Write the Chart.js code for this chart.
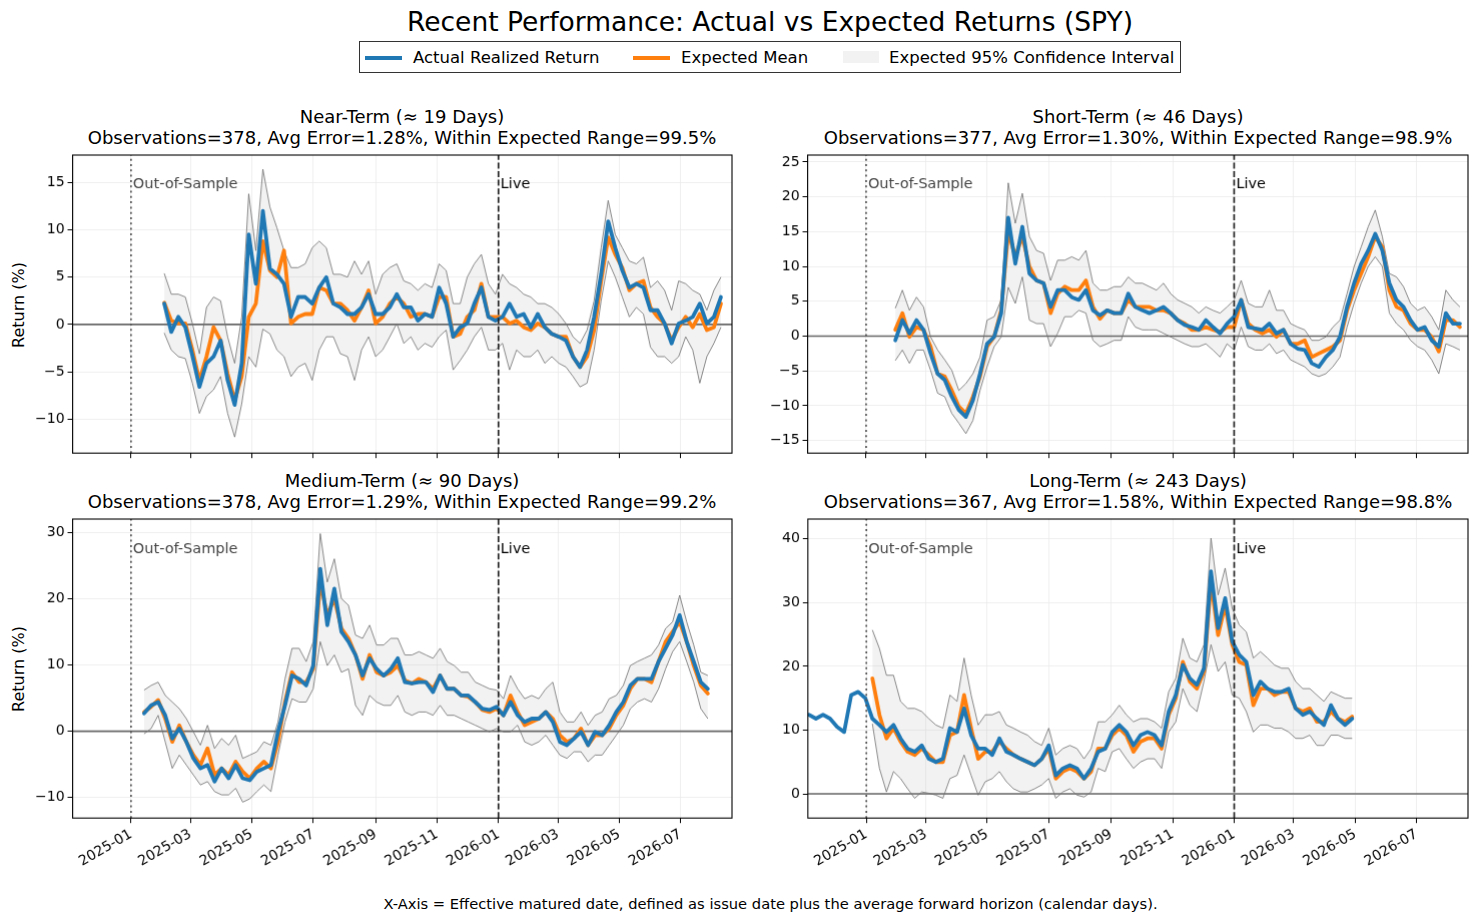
<!DOCTYPE html>
<html>
<head>
<meta charset="utf-8">
<title>Recent Performance: Actual vs Expected Returns (SPY)</title>
<script src="https://cdn.jsdelivr.net/npm/chart.js@4.4.1/dist/chart.umd.min.js"></script>
<style>
  body { margin: 0; background: #fff; font-family: "DejaVu Sans", sans-serif; color: #000; }
  #page { position: relative; width: 1478px; height: 922px; overflow: hidden; }
  .txt { position: absolute; white-space: nowrap; }
  .center { text-align: center; }
  #legend { position: absolute; left: 359px; top: 41px; width: 820px; height: 30px; border: 1px solid #333; }
  #legend .swatch { position: absolute; }
  #legend .lbl { position: absolute; top: 0; line-height: 31px; font-size: 16.5px; }
  .ytitle { position: absolute; font-size: 16px; transform: translate(-50%, -50%) rotate(-90deg); white-space: nowrap; }
</style>
</head>
<body>
<div id="page">
  <div class="txt center" style="left:0;width:1540px;top:5px;line-height:34px;font-size:26.5px;">Recent Performance: Actual vs Expected Returns (SPY)</div>

  <div id="legend">
    <div class="swatch" style="left:5px;top:14px;width:37px;height:3.8px;background:#1f77b4"></div>
    <div class="lbl" style="left:53px">Actual Realized Return</div>
    <div class="swatch" style="left:273px;top:14px;width:37px;height:3.8px;background:#ff7f0e"></div>
    <div class="lbl" style="left:321px">Expected Mean</div>
    <div class="swatch" style="left:483px;top:9px;width:36px;height:12px;background:#f2f2f2;"></div>
    <div class="lbl" style="left:529px">Expected 95% Confidence Interval</div>
  </div>

  <div class="txt center" style="left:2px;width:800px;top:106px;line-height:21px;font-size:18px;">Near-Term (≈ 19 Days)<br>Observations=378, Avg Error=1.28%, Within Expected Range=99.5%</div>
  <div class="txt center" style="left:738px;width:800px;top:106px;line-height:21px;font-size:18px;">Short-Term (≈ 46 Days)<br>Observations=377, Avg Error=1.30%, Within Expected Range=98.9%</div>
  <div class="txt center" style="left:2px;width:800px;top:470px;line-height:21px;font-size:18px;">Medium-Term (≈ 90 Days)<br>Observations=378, Avg Error=1.29%, Within Expected Range=99.2%</div>
  <div class="txt center" style="left:738px;width:800px;top:470px;line-height:21px;font-size:18px;">Long-Term (≈ 243 Days)<br>Observations=367, Avg Error=1.58%, Within Expected Range=98.8%</div>

  <div class="ytitle" style="left:18px;top:305px;">Return (%)</div>
  <div class="ytitle" style="left:18px;top:669px;">Return (%)</div>

  <div class="txt center" style="left:0;width:1541px;top:894px;line-height:20px;font-size:14.7px;">X-Axis = Effective matured date, defined as issue date plus the average forward horizon (calendar days).</div>
</div>

<script>
// weekly samples (returns in %)
const WEEK = 7;

const xTickLabels = ['2025-01', '2025-03', '2025-05', '2025-07', '2025-09', '2025-11',
                     '2026-01', '2026-03', '2026-05', '2026-07'];

const nearStart = '2025-02-03';
const nearActual = [2.2, -0.8, 0.8, -0.3, -3.3, -6.6, -4.1, -3.4, -1.7, -5.9,
  -8.5, -4.1, 9.5, 4.3, 12.0, 5.9, 5.3, 4.3, 0.8, 2.9,
  2.9, 2.2, 3.9, 5.0, 2.2, 1.8, 1.1, 1.1, 1.8, 3.2,
  1.1, 1.1, 1.8, 3.2, 1.8, 1.8, 0.4, 1.1, 0.8, 3.9,
  2.2, -1.3, -0.3, 0.1, 2.2, 3.9, 0.8, 0.4, 0.8, 2.2,
  0.8, 1.1, -0.3, 1.1, -0.3, -1.0, -1.3, -1.7, -3.4, -4.5,
  -2.7, 0.8, 5.3, 10.9, 8.1, 5.7, 3.9, 4.3, 3.9, 1.5,
  1.5, 0.1, -2.0, 0.1, 0.4, 0.8, 2.2, 0.1, 0.8, 2.9];
const nearMean = [2.3, 0.4, 0.1, 0.1, -2.7, -5.9, -3.4, -0.3, -1.7, -5.2,
  -8.0, -5.5, 0.8, 2.2, 8.8, 5.7, 5.0, 7.8, 0.1, 0.8,
  1.1, 1.1, 3.9, 3.6, 2.2, 2.2, 1.5, 0.4, 1.8, 3.6,
  0.1, 0.8, 2.2, 2.9, 2.2, 0.8, 1.1, 1.1, 0.8, 2.9,
  2.9, -1.3, -1.0, 0.8, 1.5, 4.3, 0.8, 0.8, 0.8, 0.1,
  0.4, -0.3, -0.6, 0.1, -0.3, -1.0, -1.3, -1.3, -3.4, -4.5,
  -3.4, -0.6, 4.6, 9.2, 7.4, 6.0, 3.6, 4.3, 4.6, 1.8,
  0.8, 0.1, -1.7, -0.3, 0.8, -0.3, 1.1, -0.6, -0.3, 2.2];
const nearUpper = [5.4, 3.2, 3.2, 2.9, 0.1, -3.1, 1.8, 2.9, 2.5, -1.3,
  -4.1, 0.8, 13.8, 7.8, 16.4, 12.4, 10.2, 7.8, 6.0, 6.0,
  6.4, 8.1, 8.8, 8.1, 5.3, 5.3, 5.0, 6.7, 5.3, 6.7,
  3.2, 5.3, 6.0, 6.4, 4.6, 4.3, 3.6, 4.3, 3.9, 6.4,
  5.7, 2.2, 2.2, 5.0, 6.4, 7.4, 4.3, 3.2, 5.3, 4.3,
  3.9, 3.2, 2.9, 2.2, 2.2, 1.8, 1.1, 0.1, -1.3, -2.0,
  -0.6, 2.5, 8.1, 13.1, 9.5, 8.1, 6.7, 6.4, 7.1, 3.9,
  4.6, 3.6, 1.5, 4.6, 4.3, 3.6, 3.2, 1.5, 3.6, 5.0];
const nearLower = [-0.9, -2.7, -3.4, -3.6, -6.2, -9.4, -7.6, -6.9, -5.5, -9.4,
  -11.9, -8.4, -3.4, -4.5, -0.5, -1.0, -2.7, -3.4, -5.5, -4.5,
  -4.1, -5.9, -2.7, -1.3, -1.3, -3.1, -3.4, -5.9, -2.7, -1.3,
  -3.4, -2.7, -1.3, 0.1, -2.0, -1.3, -2.7, -2.0, -2.4, -1.3,
  -0.6, -4.8, -3.8, -2.7, -1.3, -0.3, -2.7, -2.7, -2.0, -4.8,
  -2.7, -3.4, -3.4, -2.7, -4.1, -3.4, -4.1, -4.5, -5.5, -6.6,
  -6.2, -2.7, 2.5, 6.7, 5.0, 2.9, 0.8, 1.8, 1.1, -2.4,
  -3.4, -3.4, -4.1, -3.4, -1.3, -2.7, -6.2, -3.4, -2.0, -0.3];
const nearYTicks = [-10, -5, 0, 5, 10, 15];

const shortStart = '2025-01-30';
const shortActual = [-0.6, 2.3, 0.4, 2.3, 0.9, -2.5, -5.4, -6.3, -8.7, -10.6,
  -11.6, -9.2, -5.4, -1.1, -0.1, 3.3, 17.0, 10.4, 15.7, 9.0,
  8.0, 7.6, 4.2, 6.6, 6.6, 5.6, 5.2, 6.6, 3.7, 3.0,
  3.7, 3.3, 3.3, 6.1, 4.2, 3.7, 3.3, 3.7, 4.2, 3.3,
  2.3, 1.6, 1.3, 0.9, 2.3, 1.3, 0.4, 1.8, 2.8, 5.2,
  1.3, 1.1, 0.9, 1.8, 0.4, 0.9, -1.1, -1.8, -2.0, -3.9,
  -4.4, -3.0, -2.0, -0.1, 4.2, 7.6, 10.4, 12.3, 14.7, 12.3,
  7.6, 5.2, 4.2, 2.3, 0.9, 1.3, -0.6, -1.5, 3.3, 1.8,
  1.8];
const shortMean = [0.9, 3.3, -0.1, 1.3, 0.9, -1.5, -5.4, -5.8, -7.8, -10.1,
  -11.1, -8.7, -5.8, -1.5, -0.1, 3.7, 15.0, 11.4, 14.3, 10.0,
  8.0, 7.6, 3.3, 6.1, 7.1, 6.6, 6.6, 8.0, 4.2, 2.5,
  3.7, 3.3, 3.3, 5.2, 4.2, 4.2, 4.2, 3.7, 3.7, 3.3,
  2.3, 1.8, 0.9, 0.9, 1.3, 0.9, 0.6, 1.3, 1.3, 5.2,
  1.8, 0.9, 0.4, 0.9, -0.1, 0.9, -1.1, -1.1, -0.6, -3.0,
  -2.5, -2.0, -1.5, -0.6, 3.7, 6.6, 9.0, 11.4, 14.3, 12.8,
  6.6, 4.2, 3.7, 1.8, 0.9, 0.9, -0.1, -2.2, 2.3, 2.3,
  1.3];
const shortUpper = [4.0, 6.6, 3.7, 5.6, 4.2, -0.1, -2.0, -3.4, -4.9, -7.8,
  -6.8, -5.4, -3.0, 2.3, 2.8, 5.2, 22.0, 16.2, 20.5, 14.3,
  12.3, 11.9, 8.0, 10.9, 10.9, 11.4, 10.9, 12.3, 7.6, 6.6,
  6.6, 7.1, 7.1, 8.5, 7.6, 7.6, 7.1, 6.6, 7.6, 6.1,
  5.2, 4.7, 4.2, 3.3, 4.2, 3.7, 3.3, 4.2, 5.2, 8.0,
  4.7, 4.2, 4.2, 6.6, 3.7, 3.7, 1.8, 1.3, 0.9, -0.6,
  -0.6, -0.1, 1.3, 2.3, 6.1, 10.0, 12.8, 15.7, 18.1, 14.3,
  9.0, 8.5, 7.1, 4.7, 3.7, 4.2, 2.8, 0.9, 6.6, 5.2,
  4.2];
const shortLower = [-3.5, -2.0, -3.9, -2.0, -2.0, -4.9, -8.2, -8.7, -11.1, -12.5,
  -14.0, -12.1, -7.8, -4.4, -1.5, -0.1, 7.0, 4.7, 8.5, 2.3,
  1.8, 1.8, -1.5, 0.4, 2.8, 2.8, 3.7, 3.3, -0.6, -1.5,
  -1.1, -0.6, -0.6, 2.8, 1.3, 0.9, 0.9, 0.9, 0.4, -0.1,
  -0.6, -1.1, -1.5, -1.5, -1.1, -2.0, -3.0, -1.1, -2.0, 1.3,
  -1.5, -2.0, -2.0, -1.1, -2.5, -2.0, -3.4, -3.9, -4.4, -5.4,
  -5.8, -5.4, -4.4, -3.0, 1.3, 4.7, 7.6, 10.0, 11.4, 10.0,
  3.3, 1.8, 0.9, -0.6, -1.5, -2.0, -3.4, -5.4, -1.1, -1.5,
  -2.0];
const shortYTicks = [-15, -10, -5, 0, 5, 10, 15, 20, 25];

const mediumStart = '2025-01-14';
const mediumActual = [2.7, 3.9, 4.4, 2.4, -1.1, 0.4, -1.6, -4.1, -5.6, -5.1,
  -7.6, -5.6, -7.1, -5.1, -7.1, -7.4, -6.1, -5.6, -5.1, -0.1,
  3.9, 8.4, 7.9, 6.9, 9.9, 24.5, 16.0, 21.5, 15.0, 13.5,
  11.5, 8.4, 11.0, 9.4, 8.4, 9.4, 11.0, 7.4, 7.2, 7.4,
  7.4, 5.9, 8.4, 6.4, 6.4, 5.4, 5.4, 4.4, 3.4, 3.2,
  3.7, 2.4, 4.4, 2.4, 1.4, 1.9, 1.9, 2.9, 1.4, -1.6,
  -2.1, -1.1, -0.1, -2.1, -0.1, -0.6, 0.9, 2.9, 4.4, 6.9,
  7.9, 7.9, 7.9, 10.5, 12.5, 14.5, 17.5, 13.5, 10.5, 7.4,
  6.4];
const mediumMean = [2.9, 3.7, 4.7, 1.9, -1.6, 0.9, -1.6, -3.6, -5.1, -2.6,
  -6.6, -5.6, -6.6, -4.6, -6.1, -7.1, -5.6, -4.6, -5.6, -1.6,
  4.4, 8.9, 7.4, 7.4, 9.4, 22.5, 17.5, 20.0, 15.5, 14.0,
  11.5, 7.9, 11.5, 8.9, 8.4, 8.9, 9.9, 7.7, 7.2, 7.9,
  7.4, 6.4, 8.4, 6.4, 6.4, 5.4, 5.2, 4.4, 3.2, 2.9,
  3.4, 2.4, 5.4, 2.9, 0.9, 1.4, 1.9, 2.9, 1.9, -0.6,
  -1.6, -1.1, 0.4, -2.1, -0.6, -0.6, 0.4, 2.4, 3.9, 6.4,
  7.9, 7.9, 7.4, 10.5, 13.5, 15.0, 16.5, 13.5, 9.9, 6.9,
  5.7];
const mediumUpper = [6.2, 6.9, 7.4, 5.4, 4.4, 3.4, 1.9, -0.1, -2.1, 0.9,
  -2.6, -1.1, -2.1, -0.6, -4.1, -3.6, -3.1, -1.6, -2.1, 1.4,
  7.9, 12.5, 12.5, 10.5, 13.5, 29.8, 22.5, 26.0, 20.0, 19.0,
  14.5, 14.0, 16.0, 13.0, 13.0, 14.0, 14.0, 11.5, 11.5, 12.0,
  11.5, 11.0, 12.5, 10.5, 9.9, 8.9, 8.9, 7.4, 6.9, 6.4,
  6.2, 4.9, 8.4, 6.4, 4.9, 5.4, 4.9, 6.4, 7.4, 2.9,
  1.4, 1.4, 2.9, 0.9, 2.4, 2.9, 4.9, 5.4, 6.9, 9.9,
  10.5, 11.0, 11.5, 13.0, 15.5, 16.5, 20.5, 16.5, 13.0, 8.9,
  8.4];
const mediumLower = [-0.4, 0.4, 2.4, -1.6, -5.6, -3.6, -5.1, -6.6, -8.1, -7.6,
  -9.1, -9.6, -9.6, -8.6, -10.7, -10.2, -9.1, -8.1, -9.1, -3.6,
  1.4, 4.9, 4.4, 4.4, 6.4, 13.5, 9.9, 11.5, 8.9, 9.4,
  3.9, 2.4, 5.4, 4.4, 3.9, 3.9, 5.4, 2.9, 2.4, 2.9,
  2.9, 2.4, 3.9, 2.4, 2.4, 1.9, 1.4, 0.9, 0.4, -0.1,
  0.4, -0.1, -0.1, 0.9, -1.6, -2.1, -1.6, -0.6, -2.1, -3.6,
  -4.1, -3.1, -3.1, -4.6, -3.6, -3.6, -2.1, -0.6, 0.9, 3.4,
  4.4, 4.9, 4.4, 6.4, 9.4, 12.0, 13.5, 10.5, 7.4, 3.4,
  1.9];
const mediumYTicks = [-10, 0, 10, 20, 30];

const longStart = '2024-11-05';
const longActual = [12.4, 11.8, 12.4, 11.8, 10.5, 9.7, 15.5, 16.0, 15.0, 11.8,
  10.8, 9.7, 10.8, 8.7, 7.1, 6.6, 7.6, 5.5, 5.0, 5.5,
  10.3, 9.7, 13.4, 9.2, 7.1, 7.1, 6.1, 8.7, 6.6, 6.1,
  5.5, 5.0, 4.5, 5.5, 7.6, 2.9, 4.0, 4.5, 4.0, 2.4,
  4.0, 6.6, 7.1, 9.7, 10.8, 9.7, 7.6, 9.2, 9.7, 9.2,
  7.6, 12.9, 15.5, 20.2, 18.1, 17.1, 19.7, 34.9, 26.0, 30.7,
  23.9, 21.8, 20.7, 15.5, 17.6, 16.5, 16.0, 16.0, 16.5, 13.4,
  12.4, 12.9, 11.8, 10.8, 13.9, 11.8, 10.8, 11.8];
const longMean = [null, null, null, null, null, null, null, null, null, 18.1,
  12.4, 8.7, 10.3, 8.2, 6.6, 6.1, 7.1, 6.1, 5.0, 5.0,
  9.2, 9.7, 15.5, 10.3, 5.5, 6.6, 6.6, 8.2, 7.1, 6.1,
  5.5, 5.0, 4.5, 5.5, 7.1, 2.4, 3.5, 4.0, 3.5, 2.4,
  3.5, 7.1, 7.1, 9.2, 10.3, 9.2, 6.6, 8.2, 8.7, 8.7,
  7.1, 12.4, 15.0, 20.7, 17.6, 16.5, 19.2, 33.3, 24.9, 29.6,
  23.4, 20.7, 20.2, 13.9, 16.5, 16.5, 15.5, 16.0, 16.0, 13.4,
  12.9, 13.4, 11.3, 11.3, 12.9, 11.8, 11.3, 12.1];
const longUpper = [null, null, null, null, null, null, null, null, null, 25.7,
  22.8, 18.6, 18.6, 14.5, 13.4, 13.4, 12.9, 11.8, 10.8, 10.3,
  15.5, 14.5, 21.3, 15.5, 10.8, 12.4, 12.4, 12.9, 10.8, 10.3,
  9.7, 9.2, 8.2, 7.6, 10.3, 6.1, 7.1, 7.6, 7.1, 5.5,
  7.1, 11.3, 11.3, 12.4, 13.9, 12.4, 11.3, 11.8, 11.8, 11.3,
  10.3, 16.0, 18.1, 24.4, 21.3, 20.7, 23.4, 40.1, 31.2, 35.4,
  29.1, 26.5, 25.4, 21.3, 22.3, 21.3, 20.2, 19.7, 19.7, 17.6,
  16.5, 16.5, 15.5, 14.5, 16.0, 15.5, 15.0, 15.0];
const longLower = [null, null, null, null, null, null, null, null, null, 11.0,
  4.0, 0.3, 3.5, 2.4, 0.8, -0.7, 0.3, 0.1, -0.2, -0.7,
  2.4, 2.9, 6.1, 2.9, -0.2, 1.9, 2.4, 3.5, 1.9, 0.8,
  0.3, 0.3, 0.8, 1.4, 2.4, -0.7, 0.3, 0.8, -0.2, -0.5,
  0.3, 4.0, 3.5, 6.6, 7.1, 5.5, 4.0, 5.0, 5.5, 5.5,
  4.0, 9.7, 11.3, 16.5, 13.9, 12.9, 17.6, 23.4, 19.2, 20.7,
  15.5, 15.0, 12.9, 9.7, 10.8, 10.8, 10.3, 10.3, 9.7, 8.7,
  8.7, 9.2, 7.6, 7.6, 9.2, 9.2, 8.7, 8.7];
const longYTicks = [0, 10, 20, 30, 40];

const markers = [
  { date: '2025-01-01', label: 'Out-of-Sample', color: '#555', dash: [2, 3.3], textColor: '#444' },
  { date: '2026-01-01', label: 'Live', color: '#222', dash: [6, 2.6], textColor: '#000' }
];

// ---------------------------------------------------------------------------

const DAY0 = Date.parse('2025-01-01');
const dayOf = (s) => (Date.parse(s) - DAY0) / 864e5;
const xTickDays = xTickLabels.map(s => dayOf(s + '-01'));
const X_MIN = -58, X_MAX = 597;

const pts = (start, vals) => {
  const d0 = dayOf(start);
  return vals.map((v, i) => ({ x: d0 + WEEK * i, y: v }));
};

const panels = [
  { area: { l: 73, t: 155, w: 659, h: 298 }, start: nearStart, actual: nearActual, mean: nearMean,
    upper: nearUpper, lower: nearLower, yTicks: nearYTicks, yMin: -13.6, yMax: 17.9, xLabels: false },
  { area: { l: 808, t: 155, w: 660, h: 298 }, start: shortStart, actual: shortActual, mean: shortMean,
    upper: shortUpper, lower: shortLower, yTicks: shortYTicks, yMin: -16.8, yMax: 26.0, xLabels: false },
  { area: { l: 73, t: 519, w: 659, h: 299 }, start: mediumStart, actual: mediumActual, mean: mediumMean,
    upper: mediumUpper, lower: mediumLower, yTicks: mediumYTicks, yMin: -13.1, yMax: 32.0, xLabels: true },
  { area: { l: 808, t: 519, w: 660, h: 299 }, start: longStart, actual: longActual, mean: longMean,
    upper: longUpper, lower: longLower, yTicks: longYTicks, yMin: -3.8, yMax: 43.1, xLabels: true }
];

Chart.defaults.font.family = '"DejaVu Sans", sans-serif';
Chart.defaults.font.size = 14;
Chart.defaults.color = '#000';

const overlay = {
  id: 'overlay',
  beforeDatasetsDraw(chart) {
    const { ctx, chartArea: a, scales: { y } } = chart;
    const y0 = y.getPixelForValue(0);
    ctx.save();
    ctx.strokeStyle = '#666';
    ctx.lineWidth = 1.6;
    ctx.beginPath();
    ctx.moveTo(a.left, y0);
    ctx.lineTo(a.right, y0);
    ctx.stroke();
    ctx.restore();
  },
  afterDatasetsDraw(chart) {
    const { ctx, chartArea: a, scales: { x } } = chart;
    markers.forEach(m => {
      const px = x.getPixelForValue(dayOf(m.date));
      ctx.save();
      ctx.strokeStyle = m.color;
      ctx.lineWidth = 1.7;
      ctx.setLineDash(m.dash);
      ctx.beginPath();
      ctx.moveTo(px, a.bottom);
      ctx.lineTo(px, a.top);
      ctx.stroke();
      ctx.setLineDash([]);
      ctx.fillStyle = m.textColor;
      ctx.font = '14.5px "DejaVu Sans"';
      ctx.textBaseline = 'middle';
      ctx.fillText(m.label, px + 2, a.top + 0.1 * (a.bottom - a.top));
      ctx.restore();
    });
    // axes frame
    ctx.save();
    ctx.strokeStyle = '#000';
    ctx.lineWidth = 1.1;
    ctx.strokeRect(a.left, a.top, a.right - a.left, a.bottom - a.top);
    ctx.restore();
  }
};

function config(p) {
  const line = (color) => ({ borderColor: color, borderWidth: 3.8, pointRadius: 0,
    borderJoinStyle: 'round', borderCapStyle: 'round', fill: false });
  return {
    type: 'line',
    data: {
      datasets: [
        { label: 'Upper', data: pts(p.start, p.upper), borderColor: 'rgba(110,110,110,0.9)',
          borderWidth: 0.9, pointRadius: 0, fill: '+1', backgroundColor: 'rgba(128,128,128,0.1)', order: 2 },
        { label: 'Lower', data: pts(p.start, p.lower), borderColor: 'rgba(110,110,110,0.9)',
          borderWidth: 0.9, pointRadius: 0, fill: false, order: 2 },
        { label: 'Expected Mean', data: pts(p.start, p.mean), ...line('#ff7f0e'), order: 1 },
        { label: 'Actual Realized Return', data: pts(p.start, p.actual), ...line('#1f77b4'), order: 0 }
      ]
    },
    options: {
      responsive: false,
      animation: false,
      events: [],
      layout: { padding: { top: 12, right: 12, left: 4, bottom: 4 } },
      plugins: { legend: { display: false }, tooltip: { enabled: false }, title: { display: false } },
      scales: {
        x: {
          type: 'linear', min: X_MIN, max: X_MAX,
          afterBuildTicks: (s) => { s.ticks = xTickDays.map(v => ({ value: v })); },
          grid: { color: '#ebebeb', lineWidth: 0.8, tickColor: '#000', tickLength: 5, tickWidth: 1 },
          border: { display: false },
          ticks: {
            autoSkip: false,
            maxRotation: p.xLabels ? 30 : 0, minRotation: p.xLabels ? 30 : 0,
            padding: 3,
            callback: (v, i) => p.xLabels ? xTickLabels[i] : ''
          }
        },
        y: {
          type: 'linear', min: p.yMin, max: p.yMax,
          afterBuildTicks: (s) => { s.ticks = p.yTicks.map(v => ({ value: v })); },
          grid: { color: '#ebebeb', lineWidth: 0.8, tickColor: '#000', tickLength: 5, tickWidth: 1 },
          border: { display: false },
          ticks: { padding: 3, callback: (v) => v < 0 ? '\u2212' + Math.abs(v) : String(v) }
        }
      }
    },
    plugins: [overlay]
  };
}

function make(box, p, W, H) {
  const c = document.createElement('canvas');
  c.width = W; c.height = H;
  c.style.width = W + 'px'; c.style.height = H + 'px';
  box.appendChild(c);
  return new Chart(c, config(p));
}

const page = document.getElementById('page');
panels.forEach(p => {
  const box = document.createElement('div');
  box.style.position = 'absolute';
  page.appendChild(box);
  let W = p.area.w + 140, H = p.area.h + 110;
  let chart = make(box, p, W, H);
  const a = chart.chartArea;
  W += p.area.w - (a.right - a.left);
  H += p.area.h - (a.bottom - a.top);
  chart.destroy();
  box.innerHTML = '';
  chart = make(box, p, W, H);
  const b = chart.chartArea;
  box.style.left = (p.area.l - b.left) + 'px';
  box.style.top = (p.area.t - b.top) + 'px';
});
</script>
</body>
</html>
